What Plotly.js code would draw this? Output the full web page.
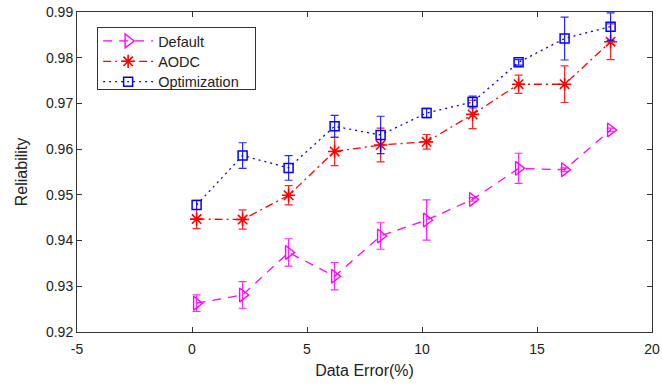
<!DOCTYPE html>
<html>
<head>
<meta charset="utf-8">
<script src="https://cdn.plot.ly/plotly-3.0.1.min.js"></script>
<style>
  html, body { margin: 0; padding: 0; background: #fff; }
  #chart { width: 662px; height: 388px; }
</style>
</head>
<body>
<div id="chart"></div>
<script>
// Data error levels (%) shared by all three methods
const dataError = [0.2, 2.2, 4.2, 6.2, 8.2, 10.2, 12.2, 14.2, 16.2, 18.2];

// Mean reliability per method
const defaultRel = [0.9263, 0.9281, 0.9374, 0.9322, 0.9410, 0.9445, 0.9490, 0.9558, 0.9555, 0.9642];
const aodcRel    = [0.9447, 0.9446, 0.9499, 0.9595, 0.9609, 0.9616, 0.9676, 0.9742, 0.9742, 0.9835];
const optRel     = [0.9478, 0.9586, 0.9559, 0.9650, 0.9631, 0.9679, 0.9703, 0.9790, 0.9842, 0.9868];

// Half-width of the error bars
const defaultErr = [0.0018, 0.0029, 0.0030, 0.0030, 0.0029, 0.0044, 0.0004, 0.0033, 0.0004, 0.0004];
const aodcErr    = [0.0021, 0.0021, 0.0021, 0.0031, 0.0037, 0.0016, 0.0031, 0.0020, 0.0040, 0.0039];
const optErr     = [0.0010, 0.0028, 0.0027, 0.0024, 0.0041, 0.0010, 0.0013, 0.0006, 0.0047, 0.0030];

const seriesNames = ['Default', 'AODC', 'Optimization'];

const xTicks = [-5, 0, 5, 10, 15, 20];
const yTicks = [0.92, 0.93, 0.94, 0.95, 0.96, 0.97, 0.98, 0.99];

const FONT = 'Liberation Sans, Arial, sans-serif';

function errBar(arr, color) {
  return { type: 'data', array: arr, visible: true, color: color, thickness: 1.2, width: 4 };
}

const traces = [
  {
    x: dataError, y: defaultRel, name: seriesNames[0],
    type: 'scatter', mode: 'lines+markers',
    line: { color: '#ff00ff', width: 1.3, dash: '9px,7px' },
    marker: { symbol: 'triangle-right-open', size: 12, color: '#ff00ff', line: { width: 1.4, color: '#ff00ff' } },
    error_y: errBar(defaultErr, 'rgba(255,0,255,0.85)')
  },
  {
    x: dataError, y: aodcRel, name: seriesNames[1],
    type: 'scatter', mode: 'lines+markers',
    line: { color: '#ff0000', width: 1.3, dash: '8px,4px,2px,4px' },
    marker: { symbol: 'asterisk-open', size: 11, color: '#ff0000', line: { width: 1.6, color: '#ff0000' } },
    error_y: errBar(aodcErr, 'rgba(255,0,0,0.85)')
  },
  {
    x: dataError, y: optRel, name: seriesNames[2],
    type: 'scatter', mode: 'lines+markers',
    line: { color: '#0000ff', width: 1.3, dash: '2px,4px' },
    marker: { symbol: 'square-open', size: 9, color: '#0000ff', line: { width: 1.5, color: '#0000ff' } },
    error_y: errBar(optErr, 'rgba(0,0,255,0.85)')
  }
];

const axisCommon = {
  showgrid: false, zeroline: false,
  showline: true, linecolor: '#333', linewidth: 1, mirror: 'ticks',
  ticks: 'inside', ticklen: 5, tickcolor: '#333', tickwidth: 1,
  tickfont: { family: FONT, size: 14, color: '#222' }
};

const layout = {
  width: 662, height: 388,
  margin: { l: 77, r: 10, t: 12, b: 56 },
  paper_bgcolor: '#fff', plot_bgcolor: '#fff',
  showlegend: true,
  legend: {
    x: 0.035, y: 0.953, xanchor: 'left', yanchor: 'top',
    bgcolor: '#fff', bordercolor: '#333', borderwidth: 1,
    font: { family: FONT, size: 14.5, color: '#222' },
    itemwidth: 50,
    tracegroupgap: 0
  },
  xaxis: Object.assign({}, axisCommon, {
    range: [-5, 20], tickvals: xTicks, ticktext: xTicks.map(String),
    ticklabelstandoff: 4,
    title: { text: 'Data Error(%)', font: { family: FONT, size: 16, color: '#222' }, standoff: 9 }
  }),
  yaxis: Object.assign({}, axisCommon, {
    range: [0.92, 0.99], tickvals: yTicks, ticktext: yTicks.map(v => v.toFixed(2)),
    title: { text: 'Reliability', font: { family: FONT, size: 16, color: '#222' }, standoff: 14 }
  })
};

Plotly.newPlot('chart', traces, layout, { displayModeBar: false, staticPlot: true }).then(gd => {
  // Longer line samples in the legend, with the marker centred on them
  gd.querySelectorAll('.legend .legendlines path').forEach(p => p.setAttribute('d', 'M5,0h50'));
  gd.querySelectorAll('.legend .legendpoints path.scatterpts').forEach(p => {
    p.setAttribute('transform', 'translate(30,0)');
  });
  // Tighter rows and a wider box for the legend
  gd.querySelectorAll('.legend g.traces').forEach((g, i) => {
    const m = /translate\(([-\d.]+),\s*([-\d.]+)\)/.exec(g.getAttribute('transform') || '');
    if (m) {
      const y = parseFloat(m[2]);
      g.setAttribute('transform', 'translate(' + m[1] + ',' + (y - 3 - i * 1.5) + ')');
    }
  });
  const bg = gd.querySelector('.legend rect.bg');
  if (bg) {
    bg.setAttribute('width', 158);
    bg.setAttribute('height', 62);
  }
});
</script>
</body>
</html>
